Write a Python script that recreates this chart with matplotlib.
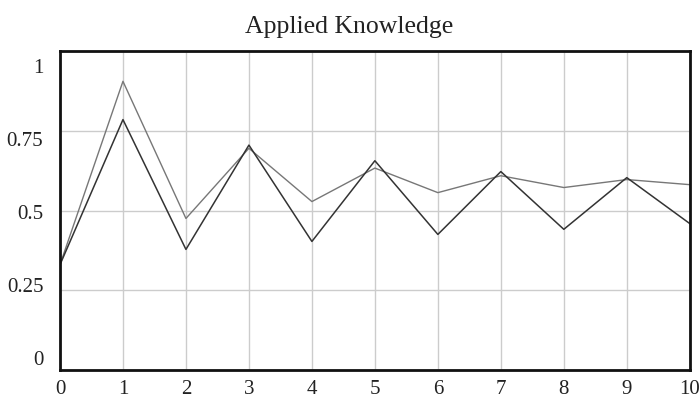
import matplotlib
matplotlib.use("Agg")
import matplotlib.pyplot as plt
from matplotlib.transforms import ScaledTranslation

plt.rcParams['font.family'] = ['Liberation Serif', 'DejaVu Serif']

steps = [0, 1, 2, 3, 4, 5, 6, 7, 8, 9, 10]
dark_line = [0.33, 0.785, 0.378, 0.705, 0.403, 0.656, 0.425, 0.622, 0.441, 0.603, 0.459]
light_line = [0.33, 0.905, 0.475, 0.695, 0.528, 0.633, 0.556, 0.609, 0.572, 0.597, 0.581]
y_ticks = [0, 0.25, 0.5, 0.75, 1]
y_labels = ["0", "0.25", "0.5", "0.75", "1"]

fig = plt.figure(figsize=(6.99, 4.0), dpi=100)
ax = fig.add_axes([0.0858, 0.075, 0.901, 0.7975])

ax.plot(steps, light_line, color='#777777', linewidth=1.0)
ax.plot(steps, dark_line, color='#333333', linewidth=1.1)

ax.set_xlim(0, 10)
ax.set_ylim(0, 1)
ax.set_xticks(steps)
ax.set_yticks(y_ticks)
ax.set_yticklabels(y_labels)
ax.grid(True, color='#cccccc', linewidth=1.0)
ax.tick_params(length=0, labelsize=15, colors='#222222')
ax.tick_params(axis='y', pad=12)
ax.tick_params(axis='x', pad=7)

# labels spread a bit inside the axis range, like the original tool does
for v, lab in zip(y_ticks, ax.get_yticklabels()):
    dy = (12 - 27 * v) / 100.0
    lab.set_transform(lab.get_transform() + ScaledTranslation(0, dy, fig.dpi_scale_trans))

for s in ax.spines.values():
    s.set_linewidth(2)
    s.set_color('#111111')

fig.suptitle("Applied Knowledge", y=0.96, fontsize=18.5, color='#222222')

fig.savefig("out.png", dpi=100)
